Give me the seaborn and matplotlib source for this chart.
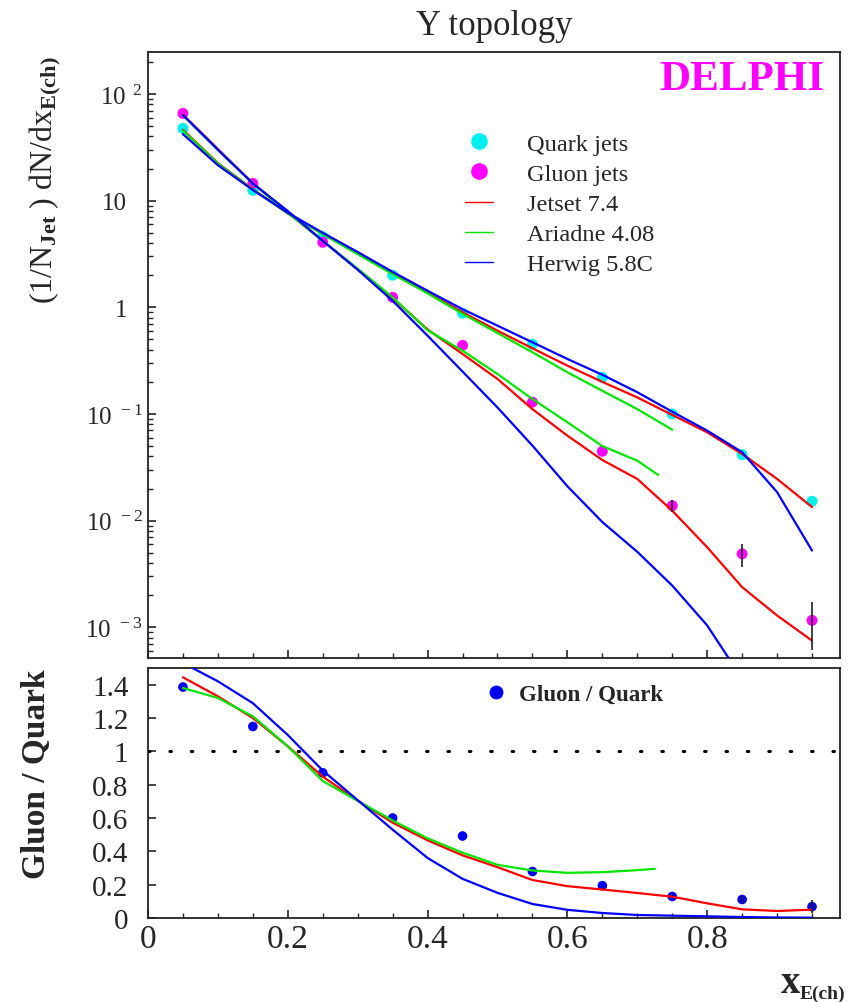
import numpy as np
import matplotlib
matplotlib.use("Agg")
import matplotlib.pyplot as plt
from matplotlib.lines import Line2D
from matplotlib.ticker import FixedLocator, NullFormatter, LogLocator, MultipleLocator
import seaborn as sns

# ---------------- data ----------------
X_BINS = [0.05, 0.15, 0.25, 0.35, 0.45, 0.55, 0.65, 0.75, 0.85, 0.95]
QUARK = [47.6, 12.5, 4.6, 2.0, 0.88, 0.45, 0.22, 0.100, 0.0416, 0.0152]
GLUON = [65.8, 14.5, 4.07, 1.24, 0.44, 0.129, 0.0447, 0.0138, 0.00488, 0.00116]
GLUON_ERR = [0, 0, 0, 0, 0, 0, 0, 0.0018, 0.0012, 0.00055]
RATIO = [1.386, 1.149, 0.871, 0.600, 0.492, 0.279, 0.194, 0.129, 0.111, 0.068]
RATIO_ERR = [0, 0, 0, 0, 0, 0, 0, 0, 0.02, 0.04]

X_MC = [0.05, 0.10, 0.15, 0.20, 0.25, 0.30, 0.35, 0.40, 0.45, 0.50,
        0.55, 0.60, 0.65, 0.70, 0.75, 0.80, 0.85, 0.90, 0.95]
X_ARI_Q = [0.05, 0.10, 0.15, 0.20, 0.25, 0.30, 0.35, 0.40, 0.45, 0.50,
           0.55, 0.60, 0.65, 0.70, 0.75]
X_ARI_G = [0.05, 0.10, 0.15, 0.20, 0.25, 0.30, 0.35, 0.40, 0.45, 0.50,
           0.55, 0.60, 0.65, 0.70, 0.73]
X_ARI_R = [0.05, 0.10, 0.15, 0.20, 0.25, 0.30, 0.35, 0.40, 0.45, 0.50,
           0.55, 0.60, 0.65, 0.70, 0.725]

JETSET_Q = [46.2, 22.5, 12.8, 7.6, 4.9, 3.2, 2.1, 1.38, 0.898, 0.604,
            0.413, 0.284, 0.200, 0.143, 0.098, 0.0673, 0.0422, 0.0246, 0.0134]
JETSET_G = [64.0, 30.5, 14.6, 7.7, 4.2, 2.28, 1.22, 0.62, 0.365, 0.213,
            0.111, 0.0626, 0.037, 0.0246, 0.0124, 0.00563, 0.00238, 0.00129, 0.00075]
ARIADNE_Q = [45.5, 22.3, 12.7, 7.6, 4.85, 3.15, 2.05, 1.35, 0.87, 0.574,
             0.379, 0.246, 0.165, 0.111, 0.0713]
ARIADNE_G = [63.0, 30.0, 14.5, 7.7, 4.2, 2.3, 1.24, 0.61, 0.392, 0.237,
             0.138, 0.0836, 0.050, 0.0365, 0.0268]
HERWIG_Q = [42.1, 21.5, 12.6, 7.7, 5.0, 3.3, 2.15, 1.43, 0.96, 0.673,
            0.47, 0.328, 0.233, 0.160, 0.105, 0.0698, 0.0438, 0.0185, 0.00524]
HERWIG_G = [63.5, 30.0, 14.5, 8.0, 4.2, 2.25, 1.15, 0.542, 0.25, 0.115,
            0.0505, 0.021, 0.0097, 0.0051, 0.00246, 0.00104, 0.00033, 0.00012, 0.00005]

JETSET_R = [1.444, 1.33, 1.20, 1.03, 0.848, 0.704, 0.572, 0.466, 0.376, 0.305,
            0.228, 0.191, 0.171, 0.150, 0.128, 0.088, 0.052, 0.042, 0.050]
ARIADNE_R = [1.38, 1.32, 1.21, 1.03, 0.822, 0.703, 0.585, 0.478, 0.392, 0.319,
             0.285, 0.271, 0.275, 0.287, 0.295]
HERWIG_R = [1.53, 1.42, 1.289, 1.098, 0.885, 0.707, 0.530, 0.360, 0.235, 0.151,
            0.084, 0.049, 0.030, 0.018, 0.014, 0.010, 0.006, 0.003, 0.002]

Y_TICK_EXP = [-3, -2, -1, 0, 1, 2]
R_TICKS = [0, 0.2, 0.4, 0.6, 0.8, 1.0, 1.2, 1.4]
R_TICK_LABELS = ["0", "0.2", "0.4", "0.6", "0.8", "1", "1.2", "1.4"]
X_TICKS = [0, 0.2, 0.4, 0.6, 0.8]
X_TICK_LABELS = ["0", "0.2", "0.4", "0.6", "0.8"]

C_QUARK = "#00f0f0"
C_GLUON = "#ff00ff"
C_JETSET = "#ff0000"
C_ARIADNE = "#00e600"
C_HERWIG = "#0000ff"
C_RATIO = "#0000ee"

# ---------------- style ----------------
sns.set_style("ticks")
plt.rcParams["font.family"] = ["Liberation Serif", "DejaVu Serif"]
plt.rcParams["mathtext.fontset"] = "custom"
plt.rcParams["mathtext.rm"] = "Liberation Serif"
plt.rcParams["mathtext.it"] = "Liberation Serif:italic"
plt.rcParams["mathtext.bf"] = "Liberation Serif:bold"
plt.rcParams["axes.linewidth"] = 1.2

W, H = 854, 1003
fig = plt.figure(figsize=(W / 100, H / 100), dpi=100)

L, R = 148, 840
ax = fig.add_axes([L / W, 1 - 659 / H, (R - L) / W, (659 - 53) / H])
axr = fig.add_axes([L / W, 1 - 919 / H, (R - L) / W, (919 - 669) / H])

for a in (ax, axr):
    for s in a.spines.values():
        s.set_color("#222222")
        s.set_linewidth(1.3)

XMAX = 0.99
LW = 1.6

# ---------------- spectra panel ----------------
ax.set_yscale("log")
ax.set_xlim(0, XMAX)
ax.set_ylim(10 ** -3.288, 10 ** 2.394)

sns.scatterplot(x=X_BINS, y=QUARK, color=C_QUARK, s=62, edgecolor="none",
                ax=ax, zorder=2, legend=False)
sns.scatterplot(x=X_BINS, y=GLUON, color=C_GLUON, s=62, edgecolor="none",
                ax=ax, zorder=2, legend=False)

sns.lineplot(x=X_MC, y=JETSET_Q, color=C_JETSET, lw=LW, ax=ax, zorder=3)
sns.lineplot(x=X_MC, y=JETSET_G, color=C_JETSET, lw=LW, ax=ax, zorder=3)
sns.lineplot(x=X_ARI_Q, y=ARIADNE_Q, color=C_ARIADNE, lw=LW, ax=ax, zorder=3)
sns.lineplot(x=X_ARI_G, y=ARIADNE_G, color=C_ARIADNE, lw=LW, ax=ax, zorder=3)
sns.lineplot(x=X_MC, y=HERWIG_Q, color=C_HERWIG, lw=LW, ax=ax, zorder=4)
sns.lineplot(x=X_MC, y=HERWIG_G, color=C_HERWIG, lw=LW, ax=ax, zorder=4)

gx = [x for x, e in zip(X_BINS, GLUON_ERR) if e > 0]
gy = [y for y, e in zip(GLUON, GLUON_ERR) if e > 0]
ge = [e for e in GLUON_ERR if e > 0]
ax.errorbar(gx, gy, yerr=ge, fmt="none", ecolor="#222222", elinewidth=1.2,
            capsize=0, zorder=5)


def exp_label(k):
    if k == 0:
        return "1"
    if k == 1:
        return "10"
    return r"$\mathregular{10^{\;\;%d}}$" % k


ax.yaxis.set_major_locator(FixedLocator([10.0 ** k for k in Y_TICK_EXP]))
ax.set_yticklabels([exp_label(k) for k in Y_TICK_EXP])
ax.yaxis.set_minor_locator(LogLocator(base=10, subs=np.arange(2, 10)))
ax.yaxis.set_minor_formatter(NullFormatter())
ax.tick_params(axis="y", which="major", direction="in", length=6, width=1.2,
               labelsize=18, pad=4, right=False)
ax.tick_params(axis="y", which="minor", direction="in", length=3.5, width=1.0,
               right=False)
# labels without an exponent sit further from the axis
for tick, k in zip(ax.yaxis.get_major_ticks(), Y_TICK_EXP):
    if k in (0, 1):
        tick.set_pad(15)

ax.xaxis.set_major_locator(FixedLocator(X_TICKS))
ax.xaxis.set_minor_locator(MultipleLocator(0.05))
ax.tick_params(axis="x", which="major", direction="in", length=6, width=1.2,
               labelbottom=False, top=False)
ax.tick_params(axis="x", which="minor", direction="in", length=3.5, width=1.0,
               top=False)
ax.set_xlabel("")
ax.set_ylabel("")

ax.set_title("Y topology", fontsize=25, pad=13)
ax.text(0.978, 0.955, "DELPHI", transform=ax.transAxes, ha="right", va="center",
        fontsize=31, fontweight="bold", color=C_GLUON)

handles = [
    Line2D([], [], ls="none", marker="o", ms=12, color=C_QUARK, mec="none"),
    Line2D([], [], ls="none", marker="o", ms=12, color=C_GLUON, mec="none"),
    Line2D([], [], color=C_JETSET, lw=1.0),
    Line2D([], [], color=C_ARIADNE, lw=1.0),
    Line2D([], [], color=C_HERWIG, lw=1.0),
]
ax.legend(handles, ["Quark jets", "Gluon jets", "Jetset 7.4", "Ariadne 4.08",
                    "Herwig 5.8C"],
          loc="upper left", bbox_to_anchor=(0.458, 0.867), frameon=False,
          fontsize=17.6, handlelength=1.15, handletextpad=1.4,
          labelspacing=0.33, borderpad=0, borderaxespad=0)

fig.text(45 / W, 1 - 180 / H,
         r"$\mathregular{(1/N_{\mathbf{Jet}}\ )\ dN/dx_{\mathbf{E(ch)}}}$",
         rotation=90, ha="center", va="center", fontsize=23)

# ---------------- ratio panel ----------------
axr.set_xlim(0, XMAX)
axr.set_ylim(0, 1.5)
axr.axhline(1.0, color="black", lw=2.2, ls=(0, (0.5, 6.5)),
            dash_capstyle="round", zorder=1)

sns.scatterplot(x=X_BINS, y=RATIO, color=C_RATIO, s=48, edgecolor="none",
                ax=axr, zorder=2, legend=False)
sns.lineplot(x=X_MC, y=JETSET_R, color=C_JETSET, lw=LW, ax=axr, zorder=3)
sns.lineplot(x=X_ARI_R, y=ARIADNE_R, color=C_ARIADNE, lw=LW, ax=axr, zorder=3)
sns.lineplot(x=X_MC, y=HERWIG_R, color=C_HERWIG, lw=LW, ax=axr, zorder=4)

rx = [x for x, e in zip(X_BINS, RATIO_ERR) if e > 0]
ry = [y for y, e in zip(RATIO, RATIO_ERR) if e > 0]
re_ = [e for e in RATIO_ERR if e > 0]
axr.errorbar(rx, ry, yerr=re_, fmt="none", ecolor="#222222", elinewidth=1.2,
             capsize=0, zorder=5)

axr.yaxis.set_major_locator(FixedLocator(R_TICKS))
axr.set_yticklabels(R_TICK_LABELS)
axr.tick_params(axis="y", which="major", direction="in", length=6, width=1.2,
                labelsize=21, pad=14, right=False)
axr.xaxis.set_major_locator(FixedLocator(X_TICKS))
axr.set_xticklabels(X_TICK_LABELS)
axr.xaxis.set_minor_locator(MultipleLocator(0.05))
axr.tick_params(axis="x", which="major", direction="in", length=6, width=1.2,
                labelsize=24, pad=4, top=False)
axr.tick_params(axis="x", which="minor", direction="in", length=3.5, width=1.0,
                top=False)
axr.set_xlabel("")
axr.set_ylabel("")

axr.legend([Line2D([], [], ls="none", marker="o", ms=10, color=C_RATIO, mec="none")],
           ["Gluon / Quark"], loc="upper left", bbox_to_anchor=(0.49, 0.935),
           frameon=False, prop={"size": 16.5, "weight": "bold"},
           handlelength=0.8, handletextpad=0.6, borderpad=0, borderaxespad=0)

fig.text(37 / W, 1 - 774 / H, "Gluon / Quark", rotation=90, ha="center",
         va="center", fontsize=24, fontweight="bold")
fig.text(800 / W, 1 - 993 / H, "x", ha="right", va="baseline", fontsize=28,
         fontweight="bold")
fig.text(800 / W, 1 - 999 / H, "E(ch)", ha="left", va="baseline", fontsize=14,
         fontweight="bold")

fig.savefig("out.png", dpi=100)
